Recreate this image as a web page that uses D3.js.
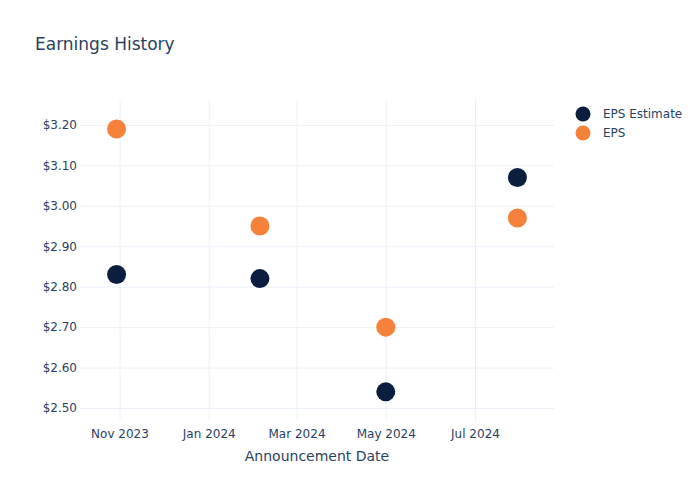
<!DOCTYPE html>
<html><head><meta charset="utf-8">
<script src="https://cdn.jsdelivr.net/npm/d3@7"></script>
<style>body{margin:0;background:#fff}svg{display:block;font-family:"DejaVu Sans",sans-serif}</style>
</head><body><svg id="c" width="700" height="500"></svg>
<script>
const dates = ["2023-10-30","2024-02-05","2024-05-01","2024-07-30"];
const epsEstimate = [2.83, 2.82, 2.54, 3.07];
const eps = [3.19, 2.95, 2.70, 2.97];
const yTicks = [2.5,2.6,2.7,2.8,2.9,3.0,3.1,3.2];
const xTicks = ["2023-11-01","2024-01-01","2024-03-01","2024-05-01","2024-07-01"];
const seriesNames = ["EPS Estimate","EPS"];
const colors = ["#0c1e3f","#f6813a"];

const parse = d3.timeParse("%Y-%m-%d");
const svg = d3.select("#c");
const m = {l:80, r:146, t:100, b:80};
const W = 700, H = 500;
const x = d3.scaleTime().domain([parse("2023-10-05"), parse("2024-08-24")]).range([m.l, W-m.r]);
const y = d3.scaleLinear().domain([2.468, 3.259]).range([H-m.b+1, m.t+1]);
const txt = "#2a3f5f", grid = "#ebf0f8";

svg.append("text").attr("x",35).attr("y",50).attr("font-size",17).attr("fill",txt).text("Earnings History");

const xa = d3.axisBottom(x).tickValues(xTicks.map(parse)).tickFormat(d3.timeFormat("%b %Y")).tickSize(-(H-m.t-m.b)).tickPadding(9);
const gx = svg.append("g").attr("transform",`translate(0,${H-m.b})`).call(xa);
gx.select(".domain").remove();
gx.selectAll("line").attr("stroke",grid);
gx.selectAll("text").attr("fill",txt).attr("font-size",12).attr("font-family","DejaVu Sans");

const ya = d3.axisLeft(y).tickValues(yTicks).tickFormat(d=>"$"+d.toFixed(2)).tickSize(-(W-m.l-m.r)).tickPadding(3);
const gy = svg.append("g").attr("transform",`translate(${m.l},0)`).call(ya);
gy.select(".domain").remove();
gy.selectAll("line").attr("stroke",grid);
gy.selectAll("text").attr("fill",txt).attr("font-size",12).attr("font-family","DejaVu Sans");

svg.append("text").attr("x",(m.l+W-m.r)/2).attr("y",461).attr("text-anchor","middle").attr("font-size",14).attr("fill",txt).text("Announcement Date");

[epsEstimate, eps].forEach((vals,i)=>{
  svg.append("g").selectAll("circle").data(vals).join("circle")
    .attr("cx",(d,j)=>x(parse(dates[j]))).attr("cy",d=>y(d)).attr("r",9.5)
    .attr("fill",colors[i]);
});

const lg = svg.append("g");
seriesNames.forEach((n,i)=>{
  lg.append("circle").attr("cx",583).attr("cy",114+i*19).attr("r",7.5).attr("fill",colors[i]);
  lg.append("text").attr("x",603).attr("y",118+i*19).attr("font-size",12).attr("fill",txt).text(n);
});
</script></body></html>
